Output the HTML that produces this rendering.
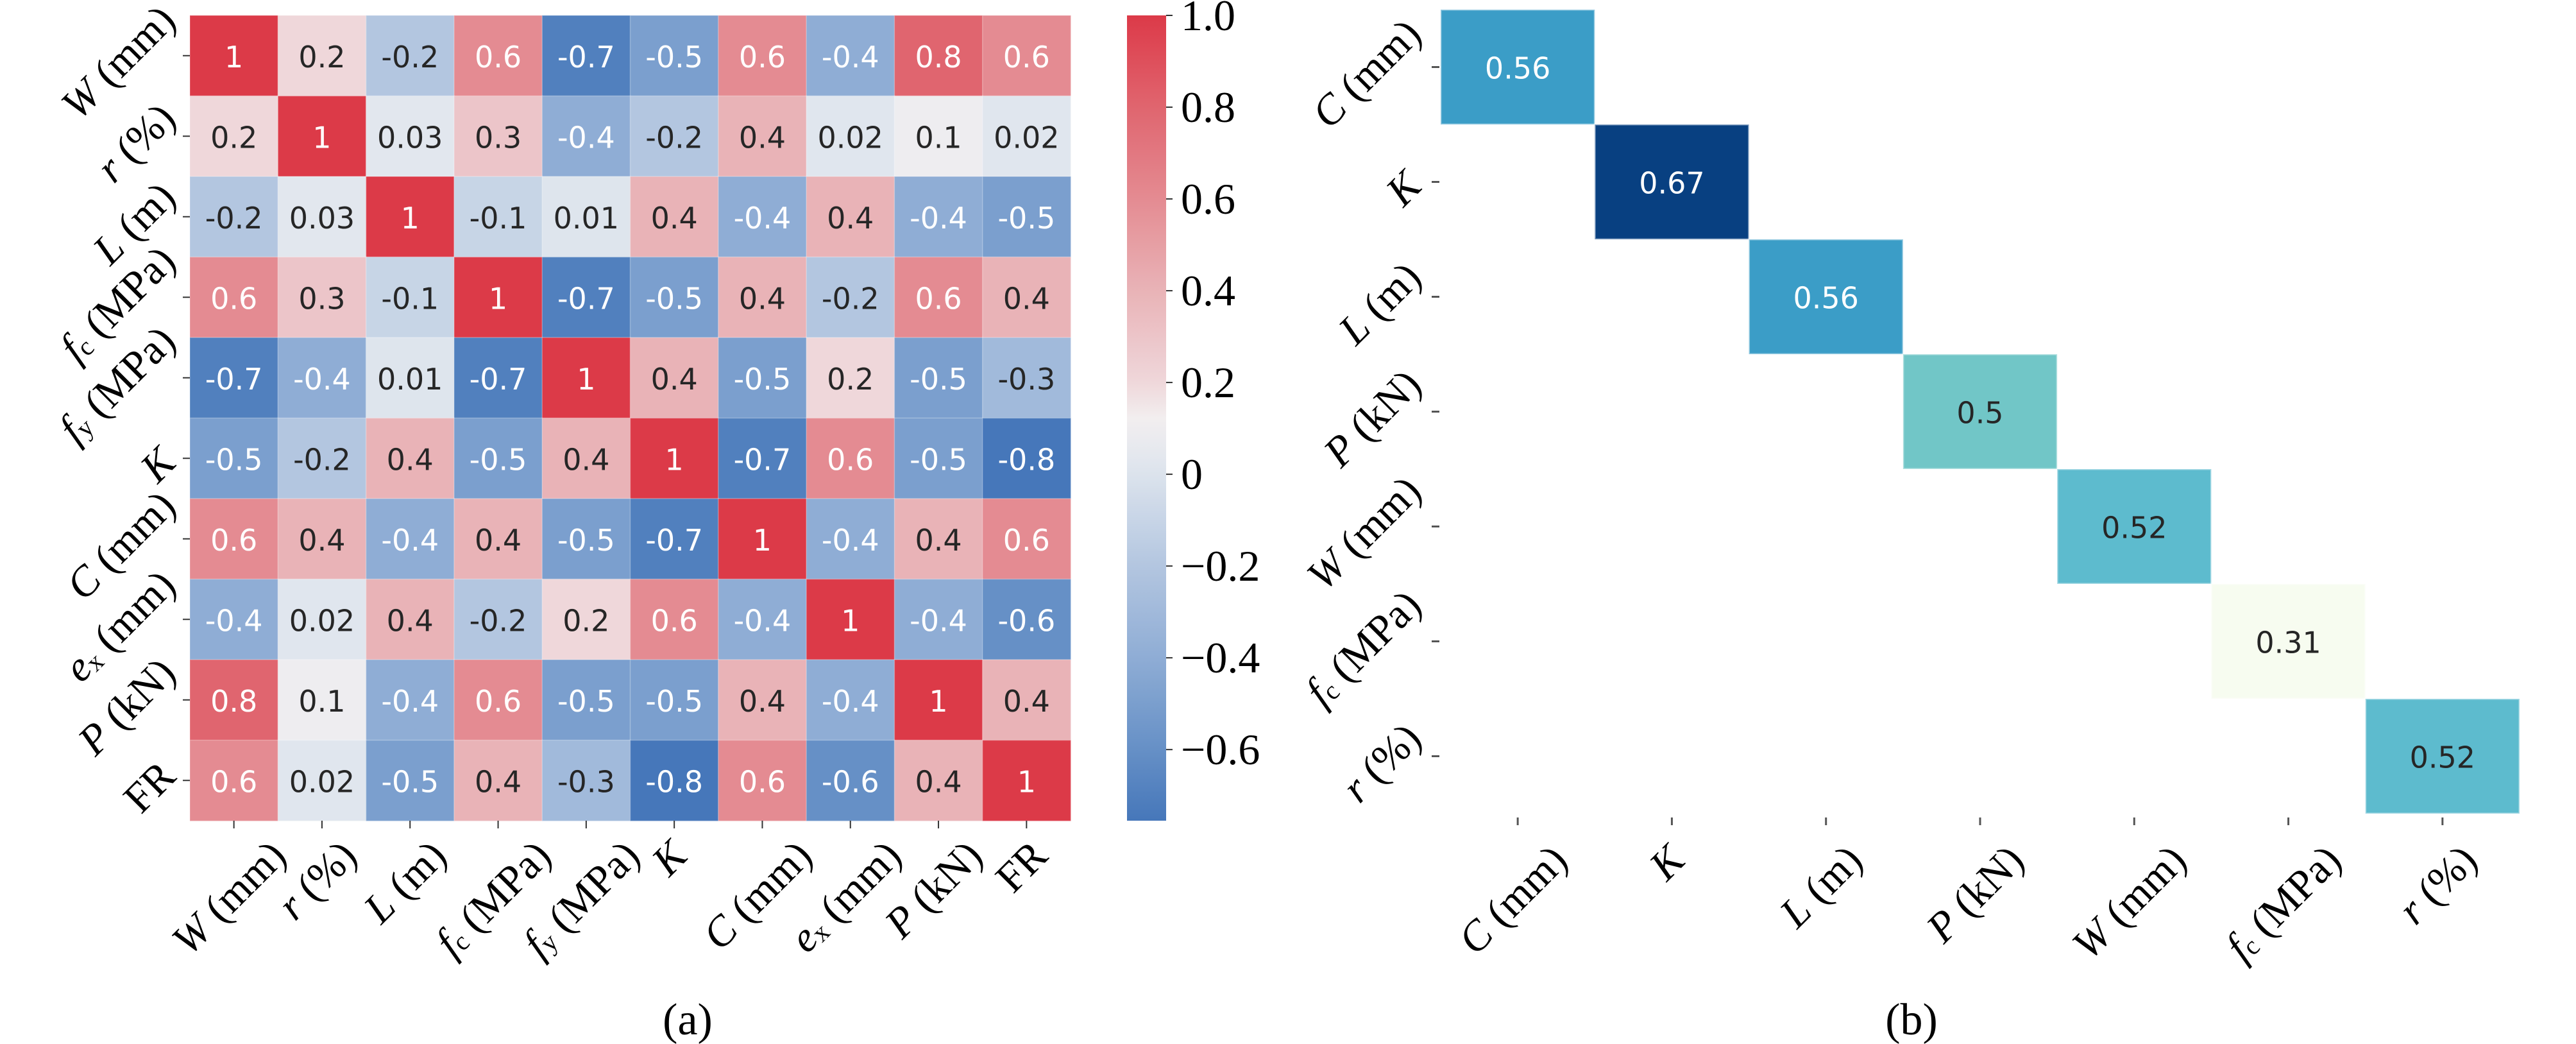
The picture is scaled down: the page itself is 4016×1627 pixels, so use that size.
<!DOCTYPE html>
<html><head><meta charset="utf-8">
<style>
html,body{margin:0;padding:0;background:#fff;}
svg{display:block;}
.serif{font-family:"Liberation Serif","DejaVu Serif",serif;}
.ann{font-family:"DejaVu Sans","Liberation Sans",sans-serif;font-size:46px;}
</style></head>
<body>
<svg id="fig" xmlns="http://www.w3.org/2000/svg" width="4016" height="1627" viewBox="0 0 4016 1627">
  <rect width="4016" height="1627" fill="#fff"/>
  <defs>
    <linearGradient id="cbgrad" x1="0" y1="1" x2="0" y2="0"></linearGradient>
  </defs>
  <g id="panelA"></g>
  <g id="cbar"></g>
  <g id="panelB"></g>
  <text class="serif" x="1072" y="1612" font-size="70" text-anchor="middle">(a)</text>
  <text class="serif" x="2980" y="1612" font-size="70" text-anchor="middle">(b)</text>
</svg>
<script>
// ---------- data: panel (a) ----------
const varsA = [
  ["W"," (mm)",""],["r"," (%)",""],["L"," (m)",""],["f"," (MPa)","c"],["f"," (MPa)","y"],
  ["K","",""],["C"," (mm)",""],["e"," (mm)","x"],["P"," (kN)",""],["","FR",""]
];
const corrRow1  = [1,0.2,-0.2,0.6,-0.7,-0.5,0.6,-0.4,0.8,0.6];
const corrRow2  = [0.2,1,0.03,0.3,-0.4,-0.2,0.4,0.02,0.1,0.02];
const corrRow3  = [-0.2,0.03,1,-0.1,0.01,0.4,-0.4,0.4,-0.4,-0.5];
const corrRow4  = [0.6,0.3,-0.1,1,-0.7,-0.5,0.4,-0.2,0.6,0.4];
const corrRow5  = [-0.7,-0.4,0.01,-0.7,1,0.4,-0.5,0.2,-0.5,-0.3];
const corrRow6  = [-0.5,-0.2,0.4,-0.5,0.4,1,-0.7,0.6,-0.5,-0.8];
const corrRow7  = [0.6,0.4,-0.4,0.4,-0.5,-0.7,1,-0.4,0.4,0.6];
const corrRow8  = [-0.4,0.02,0.4,-0.2,0.2,0.6,-0.4,1,-0.4,-0.6];
const corrRow9  = [0.8,0.1,-0.4,0.6,-0.5,-0.5,0.4,-0.4,1,0.4];
const corrRow10 = [0.6,0.02,-0.5,0.4,-0.3,-0.8,0.6,-0.6,0.4,1];
const cbarTicks = [1.0,0.8,0.6,0.4,0.2,0,-0.2,-0.4,-0.6];
const cbarTickLabels = ["1.0","0.8","0.6","0.4","0.2","0","\u22120.2","\u22120.4","\u22120.6"];
const vminA = -0.755, vmaxA = 1.0;

// ---------- data: panel (b) ----------
const varsB = [["C"," (mm)",""],["K","",""],["L"," (m)",""],["P"," (kN)",""],["W"," (mm)",""],["f"," (MPa)","c"],["r"," (%)",""]];
const scoresB = [0.56,0.67,0.56,0.5,0.52,0.31,0.52];
const vminB = 0.31, vmaxB = 0.67;

const NS = "http://www.w3.org/2000/svg";
function mk(tag, attrs, parent){
  const e = document.createElementNS(NS, tag);
  for (const k in attrs) e.setAttribute(k, attrs[k]);
  parent.appendChild(e);
  return e;
}
function hex(h){return [parseInt(h.slice(1,3),16),parseInt(h.slice(3,5),16),parseInt(h.slice(5,7),16)];}
function interp(stops, t){
  if (t<=stops[0][0]) return hex(stops[0][1]);
  for (let i=1;i<stops.length;i++){
    if (t<=stops[i][0]){
      const a=stops[i-1], b=stops[i], f=(t-a[0])/(b[0]-a[0]);
      const ca=hex(a[1]), cb=hex(b[1]);
      return ca.map((v,j)=>Math.round(v+(cb[j]-v)*f));
    }
  }
  return hex(stops[stops.length-1][1]);
}
const cmapA = [[-0.755,'#4677ba'],[-0.6,'#6690c6'],[-0.4,'#8fadd5'],[-0.2,'#b3c6e0'],[0.02,'#e0e6ee'],[0.12,'#f2eff0'],[0.2,'#efd7da'],[0.4,'#e9b3b7'],[0.6,'#e48b92'],[0.8,'#e0656f'],[1.0,'#dc3a48']];
const cmapB = [[0,'#f7fcf0'],[0.125,'#e0f3db'],[0.25,'#ccebc5'],[0.375,'#a8ddb5'],[0.5,'#7bccc4'],[0.625,'#4eb3d3'],[0.75,'#2b8cbe'],[0.875,'#0868ac'],[1,'#084081']];
function rgbStr(c){return `rgb(${c[0]},${c[1]},${c[2]})`;}
function lum(c){
  const l=c.map(v=>{v/=255;return v<=0.03928?v/12.92:Math.pow((v+0.055)/1.055,2.4);});
  return 0.2126*l[0]+0.7152*l[1]+0.0722*l[2];
}
function fmt(v){return String(v);}

function rotLabel(parent, spec, fs, name){
  const t = mk('text', {class:'serif','font-size':fs,'text-anchor':'middle','dominant-baseline':'central'}, parent);
  
  
  if (spec[0]) { const a = mk('tspan', {'font-style':'italic'}, t); a.textContent = spec[0]; }
  if (spec[2]) { const s = mk('tspan', {'font-size':fs*0.62,'baseline-shift':'-30%'}, t); s.textContent = spec[2]; }
  if (spec[1]) { const b = mk('tspan', {}, t); b.textContent = spec[1]; }
  let L = 0; try { L = t.getComputedTextLength(); } catch(e) { L = fs*3; }
  const h = fs*0.8;
  const bw = (L + h)/Math.SQRT2;
  return {t, bw};
}
function place(t, cx, cy){
  t.setAttribute('x', cx); t.setAttribute('y', cy);
  t.setAttribute('transform', `rotate(-45 ${cx} ${cy})`);
}

// ---------- Panel A ----------
const gA = document.getElementById('panelA');
const ax0=296, ay0=24, ax1=1669, ay1=1279;
const n = varsA.length;
const cw=(ax1-ax0)/n, ch=(ay1-ay0)/n;
const xA = i => ax0 + i*cw;
const yA = i => ay0 + i*ch;
const rowsA = [corrRow1,corrRow2,corrRow3,corrRow4,corrRow5,corrRow6,corrRow7,corrRow8,corrRow9,corrRow10];
rowsA.forEach((row,i)=>{
  row.forEach((v,j)=>{
    const c = interp(cmapA, v);
    const r = mk('rect',{x:xA(j),y:yA(i),width:cw+0.5,height:ch+0.5,fill:rgbStr(c),stroke:'rgba(255,255,255,0.25)','stroke-width':1.5},gA);
    
    
    const t = mk('text',{x:xA(j)+cw/2,y:yA(i)+ch/2+2,class:'ann','text-anchor':'middle','dominant-baseline':'central',fill:lum(c)>0.408?'#262626':'#ffffff'},gA);
    
    
    t.textContent = fmt(v);
  });
});
varsA.forEach((spec,i)=>{
  const cy = yA(i)+ch/2;
  mk('line',{x1:ax0-11,x2:ax0,y1:cy,y2:cy,stroke:'#333','stroke-width':2},gA);
  const {t,bw} = rotLabel(gA, spec, 66, 'y-tick-label');
  place(t, ax0-16-bw/2, cy+10);
  const cx = xA(i)+cw/2;
  mk('line',{x1:cx,x2:cx,y1:ay1,y2:ay1+12,stroke:'#333','stroke-width':2},gA);
  const r2 = rotLabel(gA, spec, 66, 'x-tick-label');
  place(r2.t, cx-8, ay1+24+r2.bw/2);
});

// ---------- Colorbar ----------
const gC = document.getElementById('cbar');
const grad = document.getElementById('cbgrad');
for (let k=0;k<=40;k++){
  const v = vminA + (vmaxA-vminA)*k/40;
  mk('stop',{offset:(k/40),'stop-color':rgbStr(interp(cmapA,v))},grad);
}
const cbx0=1757, cbx1=1818;
const cbY = v => ay1 - (v - vminA)/(vmaxA - vminA)*(ay1-ay0);
const cbRect = mk('rect',{x:cbx0,y:ay0,width:cbx1-cbx0,height:ay1-ay0,fill:'url(#cbgrad)'},gC);


cbarTicks.forEach((v,k)=>{
  const y = cbY(v);
  mk('line',{x1:cbx1,x2:cbx1+10,y1:y,y2:y,stroke:'#333','stroke-width':2},gC);
  const t = mk('text',{x:1841,y:y,class:'serif','font-size':68,'dominant-baseline':'central'},gC);
  
  
  t.textContent = cbarTickLabels[k];
});

// ---------- Panel B ----------
const gB = document.getElementById('panelB');
const bx0=2246, bx1=3928, by0=15, by1=1268;
const m = varsB.length;
const bw=(bx1-bx0)/m, bh=(by1-by0)/m;
const xB = i => bx0 + i*bw;
const yB = i => by0 + i*bh;
scoresB.forEach((v,i)=>{
  const c = interp(cmapB, (v-vminB)/(vmaxB-vminB));
  const r = mk('rect',{x:xB(i),y:yB(i),width:bw,height:bh,fill:rgbStr(c),stroke:'rgba(255,255,255,0.45)','stroke-width':3},gB);
  
  
  const t = mk('text',{x:xB(i)+bw/2,y:yB(i)+bh/2+2,class:'ann','text-anchor':'middle','dominant-baseline':'central',fill:lum(c)>0.408?'#262626':'#ffffff'},gB);
  
  
  t.textContent = fmt(v);
});
varsB.forEach((spec,i)=>{
  const cy = yB(i)+bh/2;
  mk('line',{x1:bx0-14,x2:bx0-2,y1:cy,y2:cy,stroke:'#555','stroke-width':3},gB);
  const {t,bw:w} = rotLabel(gB, spec, 66, 'y-tick-label');
  place(t, bx0-24-w/2, cy+10);
  const cx = xB(i)+bw/2;
  mk('line',{x1:cx,x2:cx,y1:by1+6,y2:by1+18,stroke:'#555','stroke-width':3},gB);
  const r2 = rotLabel(gB, spec, 66, 'x-tick-label');
  place(r2.t, cx-8, by1+42+r2.bw/2);
});
</script>
</body></html>
